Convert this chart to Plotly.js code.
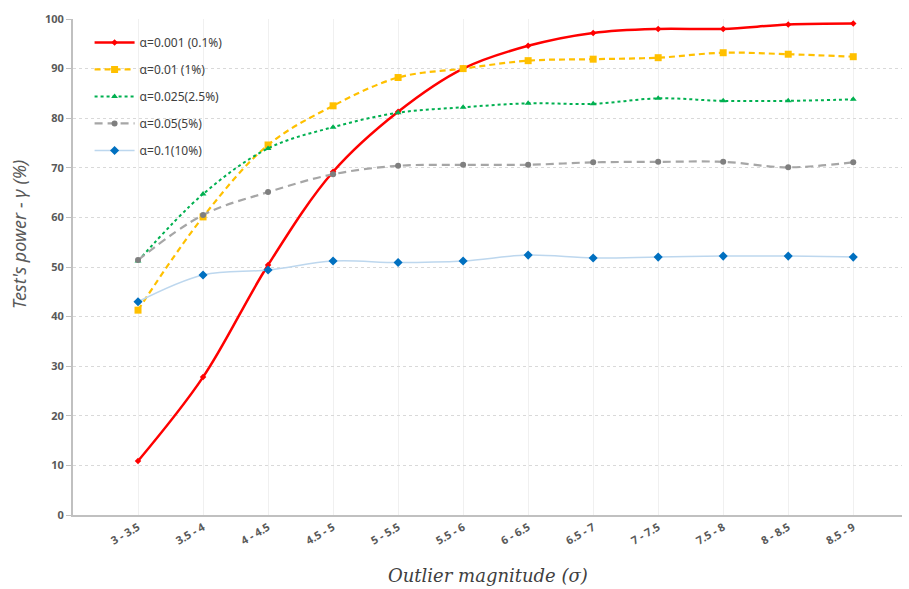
<!DOCTYPE html>
<html><head><meta charset="utf-8">
<script src="https://cdn.plot.ly/plotly-3.0.1.min.js"></script>
<style>html,body{margin:0;padding:0;background:#fff}#chart{width:909px;height:589px}</style>
</head><body><div id="chart"></div>
<script>
const categories = ["3 - 3.5","3.5 - 4","4 - 4.5","4.5 - 5","5 - 5.5","5.5 - 6","6 - 6.5","6.5 - 7","7 - 7.5","7.5 - 8","8 - 8.5","8.5 - 9"];
const alpha0001 = [10.9, 27.8, 50.4, 69.2, 81.3, 90.0, 94.6, 97.2, 98.0, 98.0, 98.9, 99.1];
const alpha001  = [41.3, 60.1, 74.6, 82.5, 88.2, 90.0, 91.6, 91.9, 92.2, 93.2, 92.9, 92.4];
const alpha0025 = [51.2, 64.7, 73.9, 78.2, 81.1, 82.2, 83.0, 82.9, 84.0, 83.5, 83.5, 83.8];
const alpha005  = [51.4, 60.5, 65.1, 68.7, 70.4, 70.6, 70.6, 71.1, 71.2, 71.2, 70.1, 71.1];
const alpha01   = [43.0, 48.4, 49.4, 51.2, 50.9, 51.2, 52.4, 51.8, 52.0, 52.2, 52.2, 52.0];
const seriesNames = ["α=0.001 (0.1%)","α=0.01 (1%)","α=0.025(2.5%)","α=0.05(5%)","α=0.1(10%)"];

const xs = categories.map((c,i)=>i);
function tr(y, name, g, line, marker){
  return {x: xs, y: y, name: name, type:'scatter', mode:'lines+markers',
    legendgroup: g, line: Object.assign({shape:'spline', smoothing:1}, line), marker: marker};
}
const data = [
  tr(alpha0001, seriesNames[0], 'a', {color:'#ff0000', width:2.5}, {symbol:'diamond', size:5, color:'#ff0000'}),
  tr(alpha001, seriesNames[1], 'b', {color:'#ffc000', width:2.2, dash:'6px,4px'}, {symbol:'square', size:7, color:'#ffc000'}),
  tr(alpha0025, seriesNames[2], 'c', {color:'#00b050', width:2, dash:'dot'}, {symbol:'triangle-up', size:6, color:'#00b050'}),
  tr(alpha005, seriesNames[3], 'd', {color:'#a6a6a6', width:2.2, dash:'8px,5px'}, {symbol:'circle', size:6, color:'#7f7f7f'}),
  tr(alpha01, seriesNames[4], 'e', {color:'#bdd7ee', width:1.5}, {symbol:'diamond', size:7, color:'#0070c0'})
];

const layout = {
  width: 909, height: 589,
  margin: {l:73, r:7, t:19, b:74},
  paper_bgcolor:'#fff', plot_bgcolor:'#fff',
  font: {family:'Noto Sans, sans-serif', color:'#595959'},
  showlegend: true,
  legend: {x:0.02, y:0.982, xanchor:'left', yanchor:'top', bgcolor:'rgba(255,255,255,0)',
    font:{size:12, color:'#404040'}, traceorder:'grouped', tracegroupgap:8, itemwidth:40},
  xaxis: {
    range:[-1, 11.75], tickmode:'array', tickvals: xs, ticktext: categories,
    tickangle:-30, tickfont:{size:11, color:'#595959', family:'Noto Sans, sans-serif', weight:'bold'},
    showgrid:true, gridcolor:'#f0f0f0', gridwidth:1,
    showline:true, linecolor:'#c0c0c0', linewidth:2, zeroline:false, ticks:''
  },
  yaxis: {
    range:[0,100], dtick:10, tickfont:{size:11, color:'#595959', family:'Noto Sans, sans-serif', weight:'bold'},
    showgrid:true, gridcolor:'#d9d9d9', griddash:'dot', gridwidth:1,
    showline:true, linecolor:'#c0c0c0', linewidth:2, zeroline:false,
    ticks:'outside', ticklen:5, tickcolor:'#c0c0c0', tickwidth:1
  },
  annotations: [
    {text:"Test's power - γ (%)", xref:'paper', yref:'paper', x:-0.065, y:0.565, xanchor:'center', yanchor:'middle',
     textangle:-90, showarrow:false, font:{size:18, color:'#595959', family:'Noto Sans, sans-serif', style:'italic'}},
    {text:"Outlier magnitude (σ)", xref:'paper', yref:'paper', x:0.5, y:-0.121, xanchor:'center', yanchor:'middle',
     showarrow:false, font:{size:18, color:'#404040', family:'DejaVu Serif, serif', style:'italic'}}
  ]
};
Plotly.newPlot('chart', data, layout, {displayModeBar:false, staticPlot:true});
</script></body></html>
